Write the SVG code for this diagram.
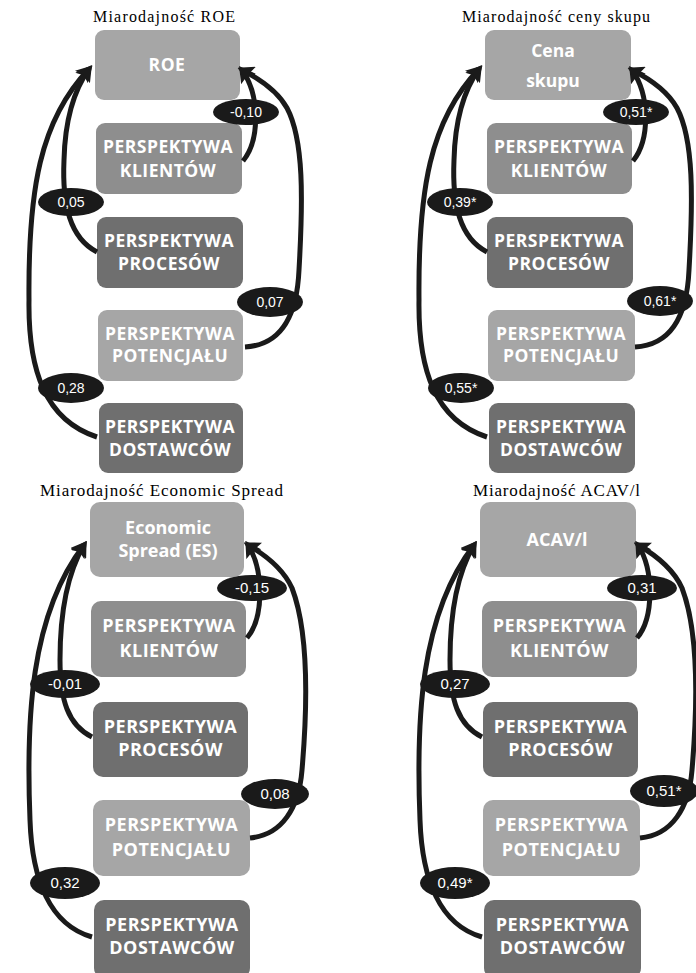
<svg xmlns="http://www.w3.org/2000/svg" width="696" height="973" viewBox="0 0 696 973">
<style>
.t{font-family:"Liberation Serif","Times New Roman",serif;font-size:16px;fill:#000}
.tb{font-size:17px}
.b{font-family:"Open Sans","Noto Sans",sans-serif;font-weight:700;fill:#fff;text-anchor:middle;letter-spacing:0.5px;font-size:17.5px}
.L{font-size:18px}
.n{letter-spacing:0}
.c1{fill:#a6a6a6}.c2{fill:#8e8e8e}.c3{fill:#6f6f6f}
.ar{fill:none;stroke:#1a1a1a;stroke-width:5;marker-end:url(#ah)}
.el{fill:#1a1a1a}
.lt{font-family:"Liberation Sans Narrow","Liberation Sans",Arial,sans-serif;font-size:14px;fill:#fff;text-anchor:middle}
.lb{font-size:15px}
</style>
<defs>
<marker id="ah" viewBox="0 0 16 18" refX="11" refY="9" markerWidth="16" markerHeight="18" markerUnits="userSpaceOnUse" orient="auto"><path d="M0,0 L16,9 L0,18 L3,9 z" fill="#1a1a1a"/></marker>
</defs>

<!-- Panel 1: ROE -->
<g id="panel-roe">
<text class="t" x="93" y="22" textLength="142" lengthAdjust="spacing">Miarodajność ROE</text>
<g id="roe"><rect class="c1" x="95" y="30" width="145" height="70" rx="9"/><text class="b" x="167" y="71">ROE</text></g>
<g id="roe-klientow"><rect class="c2" x="96" y="123" width="146" height="71" rx="9"/><text class="b" x="168" y="153">PERSPEKTYWA</text><text class="b" x="168" y="177">KLIENTÓW</text></g>
<g id="roe-procesow"><rect class="c3" x="97" y="217" width="146" height="71" rx="9"/><text class="b" x="169" y="247">PERSPEKTYWA</text><text class="b" x="169" y="270">PROCESÓW</text></g>
<g id="roe-potencjalu"><rect class="c1" x="98" y="310" width="145" height="71" rx="9"/><text class="b" x="170" y="340">PERSPEKTYWA</text><text class="b" x="170" y="362">POTENCJAŁU</text></g>
<g id="roe-dostawcow"><rect class="c3" x="99" y="403" width="144" height="70" rx="9"/><text class="b" x="170" y="433">PERSPEKTYWA</text><text class="b" x="170" y="456">DOSTAWCÓW</text></g>
<g id="roe-connectors">
<path class="ar" d="M97,252 C70,238 62,205 64,160 C65,120 74,90 89,69"/>
<path class="ar" d="M97,437 C45,420 28,370 29,300 C28,190 40,120 89,69"/>
<path class="ar" d="M243,161 C260,140 260,95 242,70"/>
<path class="ar" d="M245,347 C282,345 297,315 299,270 C303,200 304,140 287,108 C277,90 258,78 242,70"/>
<ellipse class="el" cx="246" cy="112" rx="33" ry="13"/><text class="lt" x="246" y="117">-0,10</text>
<ellipse class="el" cx="71" cy="202" rx="33" ry="14"/><text class="lt" x="71" y="207">0,05</text>
<ellipse class="el" cx="270" cy="302" rx="33" ry="15"/><text class="lt" x="270" y="307">0,07</text>
<ellipse class="el" cx="71" cy="388" rx="33" ry="15"/><text class="lt" x="71" y="393">0,28</text>
</g>
</g>

<!-- Panel 2: Cena skupu -->
<g id="panel-cena">
<text class="t" x="462" y="22" textLength="188" lengthAdjust="spacing">Miarodajność ceny skupu</text>
<g transform="translate(390,0)">
<g id="cena"><rect class="c1" x="95" y="30" width="146" height="70" rx="9"/><text class="b n" x="163" y="57">Cena</text><text class="b n" x="163" y="87">skupu</text></g>
<g id="cena-klientow"><rect class="c2" x="97" y="123" width="145" height="71" rx="9"/><text class="b" x="169" y="153">PERSPEKTYWA</text><text class="b" x="169" y="177">KLIENTÓW</text></g>
<g id="cena-procesow"><rect class="c3" x="97" y="217" width="146" height="71" rx="9"/><text class="b" x="169" y="247">PERSPEKTYWA</text><text class="b" x="169" y="270">PROCESÓW</text></g>
<g id="cena-potencjalu"><rect class="c1" x="98" y="310" width="147" height="71" rx="9"/><text class="b" x="171" y="340">PERSPEKTYWA</text><text class="b" x="171" y="362">POTENCJAŁU</text></g>
<g id="cena-dostawcow"><rect class="c3" x="99" y="403" width="146" height="70" rx="9"/><text class="b" x="171" y="433">PERSPEKTYWA</text><text class="b" x="171" y="456">DOSTAWCÓW</text></g>
<g id="cena-connectors">
<path class="ar" d="M97,252 C70,238 62,205 64,160 C65,120 74,90 89,69"/>
<path class="ar" d="M97,437 C45,420 28,370 29,300 C28,190 40,120 89,69"/>
<path class="ar" d="M243,161 C260,140 260,95 242,70"/>
<path class="ar" d="M245,347 C282,345 297,315 299,270 C303,200 304,140 287,108 C277,90 258,78 242,70"/>
<ellipse class="el" cx="246" cy="112" rx="33" ry="13"/><text class="lt" x="246" y="117">0,51*</text>
<ellipse class="el" cx="70" cy="202" rx="33" ry="14"/><text class="lt" x="70" y="207">0,39*</text>
<ellipse class="el" cx="270" cy="301" rx="33" ry="15"/><text class="lt" x="270" y="306">0,61*</text>
<ellipse class="el" cx="71" cy="388" rx="33" ry="15"/><text class="lt" x="71" y="393">0,55*</text>
</g>
</g>
</g>

<!-- Panel 3: Economic Spread -->
<g id="panel-es">
<text class="t tb" x="40" y="496" textLength="243" lengthAdjust="spacing">Miarodajność Economic Spread</text>
<g id="es"><rect class="c1" x="90" y="502" width="154" height="75" rx="10"/><text class="b L n" x="168" y="534">Economic</text><text class="b L n" x="168" y="557">Spread (ES)</text></g>
<g id="es-klientow"><rect class="c2" x="91" y="601" width="155" height="76" rx="10"/><text class="b L" x="169" y="632">PERSPEKTYWA</text><text class="b L" x="169" y="657">KLIENTÓW</text></g>
<g id="es-procesow"><rect class="c3" x="93" y="702" width="155" height="75" rx="10"/><text class="b L" x="170.5" y="733">PERSPEKTYWA</text><text class="b L" x="170.5" y="756">PROCESÓW</text></g>
<g id="es-potencjalu"><rect class="c1" x="93" y="800" width="157" height="76" rx="10"/><text class="b L" x="171.5" y="831">PERSPEKTYWA</text><text class="b L" x="171.5" y="856">POTENCJAŁU</text></g>
<g id="es-dostawcow"><rect class="c3" x="94" y="900" width="156" height="78" rx="10"/><text class="b L" x="172" y="931">PERSPEKTYWA</text><text class="b L" x="172" y="954">DOSTAWCÓW</text></g>
<g id="es-connectors">
<path class="ar" d="M92,737 C68,725 60,700 60,660 C60,610 68,572 84,545"/>
<path class="ar" d="M92,937 C50,925 32,880 30,820 C26,720 30,615 84,545"/>
<path class="ar" d="M247,638 C264,618 264,570 248,545"/>
<path class="ar" d="M250,838 C282,835 299,808 302,770 C308,700 308,630 292,588 C282,566 262,553 248,545"/>
<ellipse class="el" cx="252" cy="588" rx="35" ry="13"/><text class="lt lb" x="252" y="593">-0,15</text>
<ellipse class="el" cx="65" cy="684" rx="35" ry="14"/><text class="lt lb" x="65" y="689">-0,01</text>
<ellipse class="el" cx="275" cy="794" rx="34" ry="15"/><text class="lt lb" x="275" y="799">0,08</text>
<ellipse class="el" cx="65" cy="883" rx="35" ry="16"/><text class="lt lb" x="65" y="888">0,32</text>
</g>
</g>

<!-- Panel 4: ACAV/I -->
<g id="panel-acav">
<text class="t tb" x="473" y="496" textLength="167" lengthAdjust="spacing">Miarodajność ACAV/l</text>
<g transform="translate(390,0)">
<g id="acav"><rect class="c1" x="90" y="502" width="156" height="75" rx="10"/><text class="b L n" x="167" y="546">ACAV/l</text></g>
<g id="acav-klientow"><rect class="c2" x="92" y="601" width="155" height="76" rx="10"/><text class="b L" x="169.5" y="632">PERSPEKTYWA</text><text class="b L" x="169.5" y="657">KLIENTÓW</text></g>
<g id="acav-procesow"><rect class="c3" x="93" y="702" width="155" height="75" rx="10"/><text class="b L" x="170.5" y="733">PERSPEKTYWA</text><text class="b L" x="170.5" y="756">PROCESÓW</text></g>
<g id="acav-potencjalu"><rect class="c1" x="93" y="800" width="157" height="76" rx="10"/><text class="b L" x="171.5" y="831">PERSPEKTYWA</text><text class="b L" x="171.5" y="856">POTENCJAŁU</text></g>
<g id="acav-dostawcow"><rect class="c3" x="94" y="900" width="157" height="78" rx="10"/><text class="b L" x="172.5" y="931">PERSPEKTYWA</text><text class="b L" x="172.5" y="954">DOSTAWCÓW</text></g>
<g id="acav-connectors">
<path class="ar" d="M92,737 C68,725 60,700 60,660 C60,610 68,572 84,545"/>
<path class="ar" d="M92,937 C50,925 32,880 30,820 C26,720 30,615 84,545"/>
<path class="ar" d="M247,638 C264,618 264,570 248,545"/>
<path class="ar" d="M250,838 C282,835 299,808 302,770 C308,700 308,630 292,588 C282,566 262,553 248,545"/>
<ellipse class="el" cx="252" cy="588" rx="35" ry="13"/><text class="lt lb" x="252" y="593">0,31</text>
<ellipse class="el" cx="65" cy="684" rx="35" ry="14"/><text class="lt lb" x="65" y="689">0,27</text>
<ellipse class="el" cx="274" cy="791" rx="34" ry="16"/><text class="lt lb" x="274" y="796">0,51*</text>
<ellipse class="el" cx="65" cy="883" rx="35" ry="16"/><text class="lt lb" x="65" y="888">0,49*</text>
</g>
</g>
</g>
</svg>
